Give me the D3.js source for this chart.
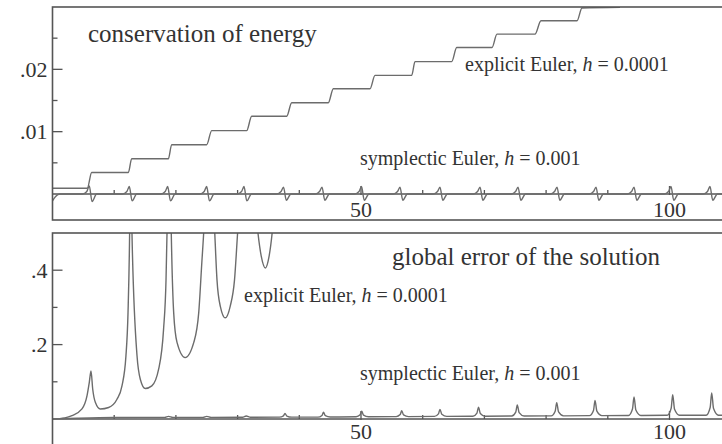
<!DOCTYPE html>
<html>
<head>
<meta charset="utf-8">
<script src="https://cdn.jsdelivr.net/npm/d3@7"></script>
<style>
  html, body { margin: 0; padding: 0; background: #fff; }
  #chart-container { width: 722px; height: 444px; overflow: hidden; }
  text { font-family: "Liberation Serif", "Times New Roman", serif; fill: #333; }
  .curve { fill: none; stroke: #6c6c6c; stroke-width: 1.4; }
  .frame { fill: none; stroke: #555; stroke-width: 1.6; }
  .axis-line { stroke: #555; stroke-width: 1.3; }
  .tick { stroke: #555; stroke-width: 1.3; }
</style>
</head>
<body>
<div id="chart-container"></div>
<script>
// ---- data ----
// x ticks (time)
const xMajor = [50, 100];
const xMinor = [10, 20, 30, 40, 60, 70, 80, 90];
const xLabels = ["50", "100"];

// top panel: energy error
const energyMajor = [0.01, 0.02];
const energyMinor = [0.005, 0.015, 0.025];
const energyLabels = [".01", ".02"];

// bottom panel: global error
const errorMajor = [0.2, 0.4];
const errorMinor = [0.1, 0.3];
const errorLabels = [".2", ".4"];

// explicit Euler, energy error (staircase)
const explicitEnergy = [
  [0, 0.00092], [5.64, 0.00092], [6.35, 0.00344], [12.29, 0.00344], [12.84, 0.00565],
  [18.77, 0.00565], [19.32, 0.0079], [24.99, 0.0079], [25.8, 0.01016], [31.47, 0.01016],
  [32.28, 0.01247], [37.96, 0.01247], [38.77, 0.01463], [44.7, 0.01463], [45.51, 0.01689],
  [51.46, 0.01689], [52.27, 0.01903], [58.22, 0.01903], [58.75, 0.02124], [64.7, 0.02124],
  [65.51, 0.0235], [71.23, 0.0235], [72.04, 0.02565], [78.2, 0.02565], [79.17, 0.02779],
  [85.01, 0.02779], [85.82, 0.02984], [91.98, 0.02995]
];

// symplectic Euler, energy error (small spikes each period)
const symplecticEnergy = [
  [0, -0.0011], [0.5, -0.0004], [1.2, 0],
  [4.86, 0], [5.56, 0.0004], [5.96, 0.0013], [6.41, -0.0012], [7.16, 0],
  [11.35, 0], [12.05, 0.0004], [12.45, 0.0012], [12.9, -0.0011], [13.65, 0],
  [17.57, 0], [18.27, 0.0004], [18.67, 0.0012], [19.12, -0.0011], [19.87, 0],
  [23.89, 0], [24.59, 0.0004], [24.99, 0.0012], [25.44, -0.0011], [26.19, 0],
  [29.94, 0], [30.64, 0.0004], [31.04, 0.0012], [31.49, -0.0011], [32.24, 0],
  [36.34, 0], [37.04, 0.0004], [37.44, 0.0011], [37.89, -0.001], [38.64, 0],
  [42.58, 0], [43.28, 0.0004], [43.68, 0.0011], [44.13, -0.001], [44.88, 0],
  [48.98, 0], [49.68, 0.0004], [50.08, 0.0012], [50.53, -0.001], [51.28, 0],
  [55.22, 0], [55.92, 0.0004], [56.32, 0.0011], [56.77, -0.001], [57.52, 0],
  [61.7, 0], [62.4, 0.0004], [62.8, 0.0011], [63.25, -0.001], [64.0, 0],
  [68.19, 0], [68.89, 0.0004], [69.29, 0.0011], [69.74, -0.001], [70.49, 0],
  [74.35, 0], [75.05, 0.0004], [75.45, 0.0011], [75.9, -0.001], [76.65, 0],
  [80.67, 0], [81.37, 0.0004], [81.77, 0.0011], [82.22, -0.001], [82.97, 0],
  [86.99, 0], [87.69, 0.0004], [88.09, 0.0011], [88.54, -0.001], [89.29, 0],
  [93.15, 0], [93.85, 0.0004], [94.25, 0.0011], [94.7, -0.001], [95.45, 0],
  [99.14, 0], [99.84, 0.0004], [100.24, 0.0012], [100.69, -0.001], [101.44, 0],
  [105.46, 0], [106.16, 0.0004], [106.56, 0.0012], [107.01, -0.001], [107.76, 0],
  [110, 0]
];

// explicit Euler, global error (goes off the top after t ~ 36)
const explicitError = [
  [0, 0], [2, 0.003], [3.16, 0.009], [4.78, 0.027], [5.59, 0.062], [5.96, 0.098],
  [6.24, 0.129], [6.52, 0.08], [6.94, 0.045], [7.75, 0.027], [9.1, 0.031], [10.45, 0.053],
  [11.26, 0.089], [11.9, 0.169], [12.24, 0.286], [12.5, 0.5], [12.72, 0.9],
  [12.88, 0.5], [13.7, 0.17], [14.23, 0.107], [15.04, 0.082], [16.1, 0.089], [17.2, 0.134],
  [18.0, 0.241], [18.4, 0.375], [18.56, 0.5], [18.9, 0.9],
  [19.25, 0.5], [19.64, 0.286], [20.18, 0.206], [21.5, 0.165], [22.9, 0.206], [23.7, 0.286],
  [24.2, 0.42], [24.5, 0.5], [25.4, 0.9],
  [26.3, 0.5], [26.66, 0.374], [27.2, 0.303], [28.0, 0.272], [28.8, 0.303], [29.5, 0.374],
  [30.0, 0.5], [31.6, 0.9],
  [33.3, 0.5], [33.84, 0.437], [34.5, 0.406], [35.1, 0.437], [35.6, 0.5], [36.5, 0.7],
  [40, 0.9], [110, 0.9]
];

// symplectic Euler, global error (slowly growing bumps)
const symplecticError = [
  [0, 0], [4, 0.002], [10, 0.004], [18.2, 0.0045], [18.8, 0.007], [19.5, 0.0045],
  [24.4, 0.0045], [25.0, 0.007], [25.7, 0.0045], [30.8, 0.0048], [31.4, 0.008], [32.1, 0.0048],
  [36.78, 0.005], [37.43, 0.0085], [37.68, 0.015], [37.98, 0.008], [38.78, 0.005],
  [43.02, 0.005], [43.67, 0.0096], [43.92, 0.018], [44.22, 0.0089], [45.02, 0.0055],
  [49.21, 0.006], [49.86, 0.0113], [50.11, 0.021], [50.41, 0.0105], [51.21, 0.006],
  [55.7, 0.0065], [56.35, 0.012], [56.6, 0.022], [56.9, 0.011], [57.7, 0.0065],
  [61.9, 0.007], [62.55, 0.0137], [62.8, 0.026], [63.1, 0.0127], [63.9, 0.007],
  [68.14, 0.0075], [68.79, 0.016], [69.04, 0.032], [69.34, 0.015], [70.14, 0.0075],
  [74.43, 0.008], [75.08, 0.0185], [75.33, 0.038], [75.63, 0.017], [76.43, 0.008],
  [80.82, 0.0085], [81.47, 0.021], [81.72, 0.044], [82.02, 0.019], [82.82, 0.0085],
  [87.03, 0.009], [87.68, 0.023], [87.93, 0.05], [88.23, 0.021], [89.03, 0.009],
  [93.35, 0.0095], [94.0, 0.027], [94.25, 0.059], [94.55, 0.024], [95.35, 0.0095],
  [99.62, 0.01], [100.27, 0.029], [100.52, 0.065], [100.82, 0.026], [101.62, 0.01],
  [105.94, 0.01], [106.59, 0.031], [106.84, 0.07], [107.14, 0.028], [107.94, 0.01],
  [110, 0.01]
];

// ---- layout ----
const [W, H] = [722, 444];
const left = 52.5;
const right = 740; // frames run off the right edge

const svg = d3
  .select("#chart-container")
  .append("svg")
  .attr("width", W)
  .attr("height", H);

const x = d3.scaleLinear().domain([0, 110]).range([left, left + 110 * 6.17]);

// panel definitions (top/bottom are pixel edges of the frame, zero = y of value 0)
const panels = [
  {
    id: "energy",
    top: 7, bottom: 220, zero: 194, labelDy: 22.5,
    domainMax: 0.03,
    major: energyMajor, minor: energyMinor, labels: energyLabels,
    series: [explicitEnergy, symplecticEnergy],
    texts: [
      { t: "conservation of energy", x: 88, y: 42, size: 25 },
      { t: "explicit Euler, ", h: " = 0.0001", x: 465, y: 71, size: 20 },
      { t: "symplectic Euler, ", h: " = 0.001", x: 360, y: 165, size: 20 },
    ],
  },
  {
    id: "error",
    top: 233, bottom: 470, zero: 419, labelDy: 19.5,
    domainMax: 0.5,
    major: errorMajor, minor: errorMinor, labels: errorLabels,
    series: [explicitError, symplecticError],
    texts: [
      { t: "global error of the solution", x: 392, y: 264.5, size: 25 },
      { t: "explicit Euler, ", h: " = 0.0001", x: 244, y: 302, size: 20 },
      { t: "symplectic Euler, ", h: " = 0.001", x: 360, y: 380, size: 20 },
    ],
  },
];

panels.forEach((p) => renderPanel(p));

function renderPanel(p) {
  const y = d3.scaleLinear().domain([0, p.domainMax]).range([p.zero, p.top]);
  const g = svg.append("g").attr("id", p.id);

  // clip the curves to the frame
  g.append("clipPath")
    .attr("id", "clip-" + p.id)
    .append("rect")
    .attr("x", left)
    .attr("y", p.top)
    .attr("width", right - left)
    .attr("height", p.bottom - p.top);

  // zero line (x axis)
  g.append("line")
    .attr("class", "axis-line")
    .attr("x1", left)
    .attr("x2", right)
    .attr("y1", p.zero)
    .attr("y2", p.zero);

  // x ticks point up from the zero line
  g.selectAll(".xminor")
    .data(xMinor)
    .enter()
    .append("line")
    .attr("class", "tick")
    .attr("x1", (d) => x(d))
    .attr("x2", (d) => x(d))
    .attr("y1", p.zero)
    .attr("y2", p.zero - 4);
  g.selectAll(".xmajor")
    .data(xMajor)
    .enter()
    .append("line")
    .attr("class", "tick")
    .attr("x1", (d) => x(d))
    .attr("x2", (d) => x(d))
    .attr("y1", p.zero + 1)
    .attr("y2", p.zero - 8);
  g.selectAll(".xlabel")
    .data(xMajor)
    .enter()
    .append("text")
    .attr("x", (d) => x(d))
    .attr("y", p.zero + p.labelDy)
    .attr("text-anchor", "middle")
    .style("font-size", "22px")
    .text((d, i) => xLabels[i]);

  // y ticks point right from the left frame
  g.selectAll(".yminor")
    .data(p.minor)
    .enter()
    .append("line")
    .attr("class", "tick")
    .attr("x1", left)
    .attr("x2", left + 5)
    .attr("y1", (d) => y(d))
    .attr("y2", (d) => y(d));
  g.selectAll(".ymajor")
    .data(p.major)
    .enter()
    .append("line")
    .attr("class", "tick")
    .attr("x1", left)
    .attr("x2", left + 10)
    .attr("y1", (d) => y(d))
    .attr("y2", (d) => y(d));
  g.selectAll(".ylabel")
    .data(p.major)
    .enter()
    .append("text")
    .attr("x", left - 5)
    .attr("y", (d) => y(d))
    .attr("dy", "0.35em")
    .attr("text-anchor", "end")
    .style("font-size", "22px")
    .text((d, i) => p.labels[i]);

  // curves
  const line = d3
    .line()
    .x((d) => x(d[0]))
    .y((d) => y(d[1]))
    .curve(d3.curveMonotoneX);
  g.append("g")
    .attr("clip-path", `url(#clip-${p.id})`)
    .selectAll("path")
    .data(p.series)
    .enter()
    .append("path")
    .attr("class", "curve")
    .attr("d", line);

  // frame
  g.append("rect")
    .attr("class", "frame")
    .attr("x", left)
    .attr("y", p.top)
    .attr("width", right - left)
    .attr("height", p.bottom - p.top);

  // titles and curve labels
  p.texts.forEach((t) => {
    const txt = g
      .append("text")
      .attr("x", t.x)
      .attr("y", t.y)
      .style("font-size", t.size + "px")
      .attr("xml:space", "preserve");
    txt.append("tspan").text(t.t);
    if (t.h) {
      txt.append("tspan").style("font-style", "italic").text("h");
      txt.append("tspan").text(t.h);
    }
  });
}
</script>
</body>
</html>
